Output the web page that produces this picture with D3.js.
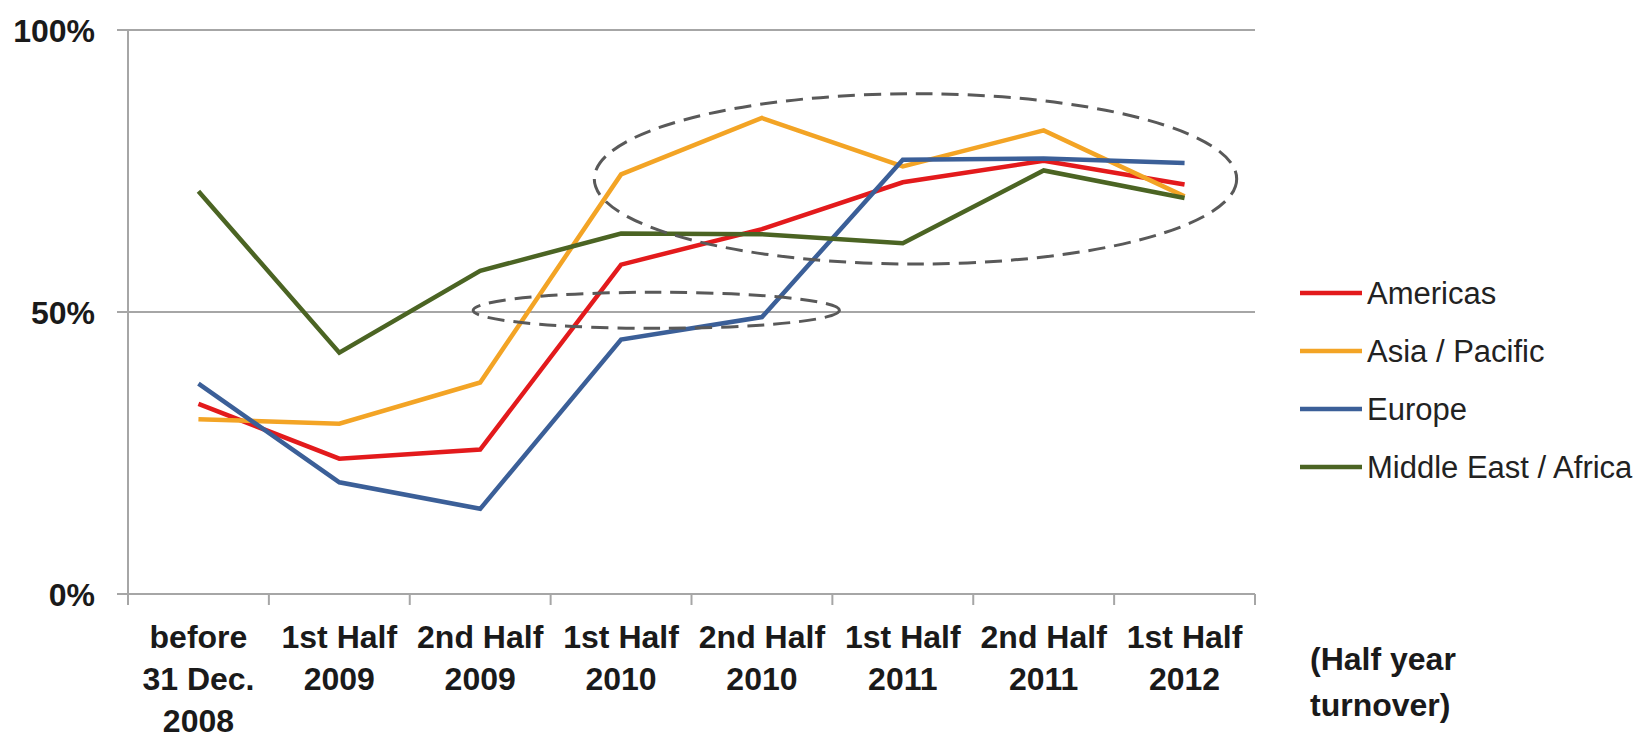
<!DOCTYPE html>
<html><head><meta charset="utf-8">
<script src="https://cdn.jsdelivr.net/npm/d3@7"></script>
<style>
html,body{margin:0;padding:0;background:#fff;}
svg{display:block;}
text{font-family:"Liberation Sans",Arial,sans-serif;}
</style></head>
<body>
<svg id="chart" width="1639" height="742"></svg>
<script>
const categories = ["before|31 Dec.|2008","1st Half|2009","2nd Half|2009","1st Half|2010","2nd Half|2010","1st Half|2011","2nd Half|2011","1st Half|2012"];
const seriesNames = ["Americas","Asia / Pacific","Europe","Middle East / Africa"];
const americas = [33.7, 24.0, 25.6, 58.4, 64.7, 73.0, 76.8, 72.6];
const asiaPacific = [31.0, 30.2, 37.5, 74.4, 84.4, 75.8, 82.2, 70.5];
const europe = [37.3, 19.8, 15.1, 45.1, 49.1, 77.0, 77.2, 76.4];
const mea = [71.4, 42.8, 57.3, 63.9, 63.8, 62.2, 75.1, 70.2];
const yTicks = [0, 50, 100];
const axisNote = ["(Half year", "turnover)"];
// annotation ellipses: [category index center, value center, radius in categories, radius in %]
const ellipseBig = [5.09, 73.6, 2.28, 15.1];
const ellipseSmall = [3.25, 50.3, 1.30, 3.2];

const colors = ["#e31a1c", "#f3a425", "#3b5f98", "#4b6423"];
const allSeries = [americas, asiaPacific, europe, mea];

const svg = d3.select("#chart");
const m = {left:128, right:1255, top:30, bottom:594};

const x = d3.scaleBand().domain(d3.range(categories.length)).range([m.left, m.right]).padding(0);
const y = d3.scaleLinear().domain([0,100]).range([m.bottom, m.top]);
const xc = i => x(0) + (i + 0.5) * x.step();

// gridlines
svg.append("g").selectAll("line").data(yTicks).join("line")
  .attr("x1", m.left - 11).attr("x2", m.right)
  .attr("y1", d => y(d)).attr("y2", d => y(d))
  .attr("stroke", "#a6a6a6").attr("stroke-width", 2);

// y axis line
svg.append("line").attr("x1", m.left).attr("x2", m.left)
  .attr("y1", y(100)).attr("y2", y(0) + 11)
  .attr("stroke", "#a6a6a6").attr("stroke-width", 2);

// x axis ticks
svg.append("g").selectAll("line").data(d3.range(categories.length + 1)).join("line")
  .attr("x1", i => x(0) + i * x.step()).attr("x2", i => x(0) + i * x.step())
  .attr("y1", y(0)).attr("y2", y(0) + 11)
  .attr("stroke", "#a6a6a6").attr("stroke-width", 2);

// y labels
svg.append("g").selectAll("text").data(yTicks).join("text")
  .attr("x", 95).attr("y", d => y(d)).attr("dy", "0.36em")
  .attr("text-anchor", "end").attr("font-size", 32).attr("font-weight", "bold")
  .attr("fill", "#1a1a1a")
  .text(d => d + "%");

// x labels
const xl = svg.append("g").selectAll("text").data(categories).join("text")
  .attr("x", (d, i) => xc(i)).attr("y", 648)
  .attr("text-anchor", "middle").attr("font-size", 32).attr("font-weight", "bold")
  .attr("fill", "#1a1a1a");
xl.each(function(d, i) {
  d3.select(this).selectAll("tspan").data(d.split("|")).join("tspan")
    .attr("x", xc(i)).attr("dy", (t, j) => j === 0 ? 0 : 42).text(t => t);
});

// axis note
svg.append("text").attr("x", 1310).attr("y", 670).attr("font-size", 32).attr("font-weight", "bold")
  .attr("fill", "#1a1a1a")
  .selectAll("tspan").data(axisNote).join("tspan")
  .attr("x", 1310).attr("dy", (t, j) => j === 0 ? 0 : 46).text(t => t);

// lines
const line = d3.line().x((d, i) => xc(i)).y(d => y(d));
svg.append("g").selectAll("path").data(allSeries).join("path")
  .attr("d", line).attr("fill", "none")
  .attr("stroke", (d, i) => colors[i]).attr("stroke-width", 4.5)
  .attr("stroke-linejoin", "miter");

// ellipses
[ellipseBig, ellipseSmall].forEach(e => {
  svg.append("ellipse")
    .attr("cx", xc(e[0])).attr("cy", y(e[1]))
    .attr("rx", e[2] * x.step()).attr("ry", y(0) - y(e[3]))
    .attr("fill", "none").attr("stroke", "#595959").attr("stroke-width", 3)
    .attr("stroke-dasharray", "17,9");
});

// legend
const lg = svg.append("g").selectAll("g").data(seriesNames).join("g")
  .attr("transform", (d, i) => `translate(1300, ${293 + i * 58})`);
lg.append("line").attr("x1", 0).attr("x2", 62).attr("y1", 0).attr("y2", 0)
  .attr("stroke", (d, i) => colors[i]).attr("stroke-width", 4.5);
lg.append("text").attr("x", 67).attr("y", 0).attr("dy", "0.36em")
  .attr("font-size", 31).attr("fill", "#222").text(d => d);
</script>
</body></html>
